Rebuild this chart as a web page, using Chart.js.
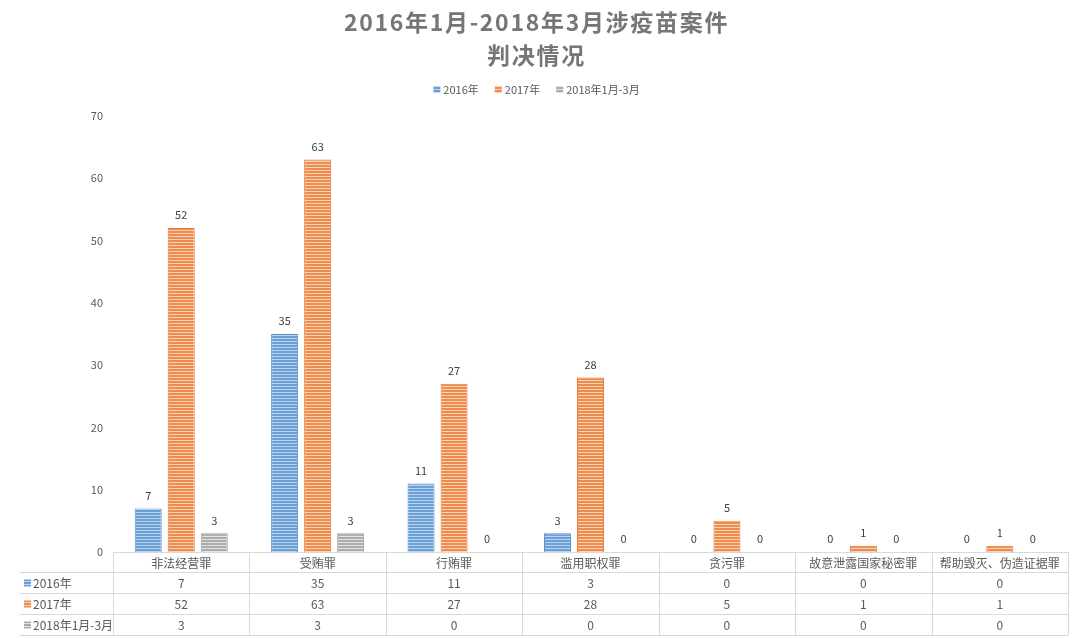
<!DOCTYPE html>
<html>
<head>
<meta charset="utf-8">
<script src="https://cdn.jsdelivr.net/npm/chart.js@4.4.1/dist/chart.umd.min.js"></script>
<style>
  html, body { margin: 0; padding: 0; background: #ffffff; }
  #wrap { width: 1073px; height: 638px; position: relative; }
</style>
</head>
<body>
<div id="wrap"><canvas id="c"></canvas></div>
<script>
// 涉疫苗案件判决情况：分组柱状图 + 底部数据表
const categories = ["非法经营罪", "受贿罪", "行贿罪", "滥用职权罪", "贪污罪", "故意泄露国家秘密罪", "帮助毁灭、伪造证据罪"];
const seriesNames = ["2016年", "2017年", "2018年1月-3月"];
const values2016 = [7, 35, 11, 3, 0, 0, 0];
const values2017 = [52, 63, 27, 28, 5, 1, 1];
const values2018 = [3, 3, 0, 0, 0, 0, 0];
const yTicks = [0, 10, 20, 30, 40, 50, 60, 70];
const titleLines = ["2016年1月-2018年3月涉疫苗案件", "判决情况"];

const FONT = "'Noto Sans CJK SC', 'Noto Sans', sans-serif";
const TEXT = "#595959";
const GRID = "#d9d9d9";

const HUES = [
  { line: "#6aa0d7", light: "#bcd5ee", edge: "#5b93cc" },
  { line: "#ef8c4c", light: "#f9d3b8", edge: "#e57d3a" },
  { line: "#ababab", light: "#e3e3e3", edge: "#9e9e9e" },
];

// 横向条纹填充
function stripes(hue) {
  const p = document.createElement("canvas");
  p.width = 4; p.height = 3;
  const g = p.getContext("2d");
  g.fillStyle = hue.light; g.fillRect(0, 0, 4, 3);
  g.fillStyle = hue.line; g.fillRect(0, 0, 4, 2);
  return document.getElementById("c").getContext("2d").createPattern(p, "repeat");
}

const rows = [values2016, values2017, values2018];
const datasets = rows.map((data, i) => ({
  label: seriesNames[i],
  data: data,
  backgroundColor: stripes(HUES[i]),
  borderColor: HUES[i].edge,
  borderWidth: 1,
  categoryPercentage: 0.726,
  barPercentage: 0.818,
}));

// 标题、图例、数值标签、数据表
const decorPlugin = {
  id: "decor",
  afterDraw(chart) {
    const ctx = chart.ctx;
    const area = chart.chartArea;
    const x = chart.scales.x;
    const cx = chart.width / 2;
    ctx.save();

    // 标题
    ctx.fillStyle = "#767676";
    ctx.font = "bold 23px " + FONT;
    ctx.letterSpacing = "1.7px";
    ctx.textAlign = "center";
    ctx.textBaseline = "middle";
    ctx.fillText(titleLines[0], cx, 22);
    ctx.fillText(titleLines[1], cx, 55);
    ctx.letterSpacing = "0px";

    // 图例
    ctx.font = "11px " + FONT;
    ctx.textAlign = "left";
    const gap = 16, box = 7;
    const widths = seriesNames.map((s) => ctx.measureText(s).width + box + 3);
    let lx = cx - (widths.reduce((a, b) => a + b, 0) + gap * 2) / 2;
    seriesNames.forEach((s, i) => {
      ctx.fillStyle = datasets[i].backgroundColor;
      ctx.fillRect(lx, 86, box, box);
      ctx.fillStyle = TEXT;
      ctx.fillText(s, lx + box + 3, 90);
      lx += widths[i] + gap;
    });

    // 数值标签
    ctx.font = "11px " + FONT;
    ctx.textAlign = "center";
    ctx.fillStyle = "#404040";
    chart.data.datasets.forEach((ds, di) => {
      chart.getDatasetMeta(di).data.forEach((bar, j) => {
        ctx.fillText(String(ds.data[j]), bar.x, bar.y - 13);
      });
    });

    // 数据表
    const rowY = [0, 20, 41, 62, 83].map((d) => area.bottom + d);
    const tableLeft = 20;
    const colW = (area.right - area.left) / categories.length;
    ctx.strokeStyle = GRID;
    ctx.lineWidth = 1;
    ctx.beginPath();
    ctx.moveTo(area.left, rowY[0] + 0.5);
    ctx.lineTo(area.right, rowY[0] + 0.5);
    for (let r = 1; r < rowY.length; r++) {
      ctx.moveTo(tableLeft, rowY[r] + 0.5);
      ctx.lineTo(area.right, rowY[r] + 0.5);
    }
    for (let k = 0; k <= categories.length; k++) {
      const vx = Math.round(area.left + k * colW) + 0.5;
      ctx.moveTo(vx, rowY[0]);
      ctx.lineTo(vx, rowY[rowY.length - 1]);
    }
    ctx.stroke();

    ctx.font = "12px " + FONT;
    ctx.fillStyle = TEXT;
    ctx.textAlign = "center";
    categories.forEach((c, k) => {
      const mx = x.getPixelForValue(k);
      ctx.fillText(c, mx, (rowY[0] + rowY[1]) / 2 + 1);
      rows.forEach((data, r) => {
        ctx.fillText(String(data[k]), mx, (rowY[r + 1] + rowY[r + 2]) / 2 + 1);
      });
    });
    ctx.textAlign = "left";
    seriesNames.forEach((s, r) => {
      const my = (rowY[r + 1] + rowY[r + 2]) / 2;
      ctx.fillStyle = datasets[r].backgroundColor;
      ctx.fillRect(tableLeft + 4, my - 3, 7, 7);
      ctx.fillStyle = TEXT;
      ctx.fillText(s, tableLeft + 13, my + 1);
    });

    ctx.restore();
  },
};

new Chart(document.getElementById("c"), {
  type: "bar",
  data: { labels: categories, datasets },
  plugins: [decorPlugin],
  options: {
    responsive: true,
    maintainAspectRatio: false,
    animation: false,
    events: [],
    layout: { padding: { top: 116, right: 5, bottom: 86, left: 0 } },
    plugins: {
      legend: { display: false },
      title: { display: false },
      tooltip: { enabled: false },
    },
    scales: {
      x: { display: false },
      y: {
        min: 0,
        max: 70,
        afterBuildTicks: (s) => { s.ticks = yTicks.map((v) => ({ value: v })); },
        afterFit: (s) => { s.width = 113; },
        grid: { display: false, drawTicks: false },
        border: { display: false },
        ticks: { color: TEXT, padding: 10, font: { size: 11, family: FONT } },
      },
    },
  },
});
</script>
</body>
</html>
